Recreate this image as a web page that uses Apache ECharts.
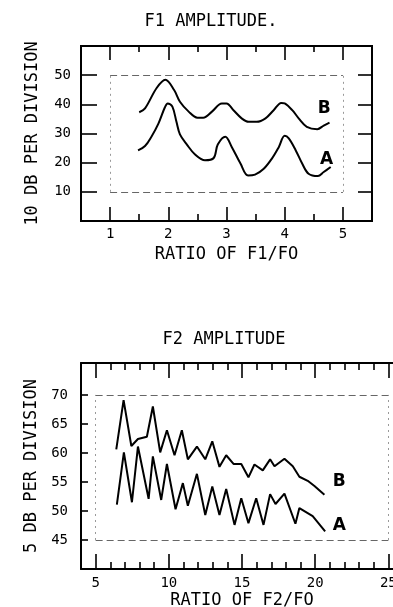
<!DOCTYPE html>
<html>
<head>
<meta charset="utf-8">
<script src="https://cdn.jsdelivr.net/npm/echarts@6/dist/echarts.min.js"></script>
<style>
html,body{margin:0;padding:0;background:#fff;}
#chart{width:393px;height:607px;}
</style>
</head>
<body>
<div id="chart"></div>
<script>
// ---------- DATA ----------
// Top panel: F1 amplitude vs ratio F1/F0  ([ratio, dB])
const f1CurveB = [[1.5,37.3],[1.6,38.6],[1.8,45.6],[1.95,48.4],[2.1,44.9],[2.2,40.9],[2.35,37.5],[2.5,35.4],[2.6,35.4],[2.75,37.5],[2.92,40.3],[3.0,40.3],[3.12,38.0],[3.26,35.2],[3.38,34.0],[3.52,34.0],[3.67,35.2],[3.81,38.0],[3.94,40.5],[4.0,40.3],[4.13,38.0],[4.24,35.2],[4.38,32.3],[4.56,31.5],[4.67,32.7],[4.77,33.7]];
const f1CurveA = [[1.48,24.2],[1.6,25.7],[1.71,28.9],[1.83,33.4],[1.94,38.9],[1.99,40.3],[2.07,39.2],[2.14,34.0],[2.2,29.7],[2.32,26.2],[2.46,22.8],[2.63,20.8],[2.78,21.6],[2.85,26.2],[2.98,28.9],[3.09,25.4],[3.24,19.7],[3.37,15.6],[3.49,15.9],[3.64,17.9],[3.78,21.4],[3.9,25.4],[4.0,29.2],[4.07,28.3],[4.19,24.2],[4.3,19.7],[4.41,16.2],[4.57,15.4],[4.67,16.8],[4.79,18.5]];
// Bottom panel: F2 amplitude vs ratio F2/F0
const f2CurveB = [[6.41,60.6],[6.91,69.1],[7.44,61.2],[7.89,62.4],[8.5,62.8],[8.91,68.0],[9.41,60.1],[9.87,63.9],[10.39,59.6],[10.89,63.9],[11.3,58.9],[11.92,61.1],[12.49,58.9],[12.97,62.0],[13.46,57.6],[13.92,59.6],[14.42,58.1],[14.95,58.1],[15.44,55.8],[15.85,58.0],[16.42,57.0],[16.92,58.9],[17.22,57.7],[17.9,59.0],[18.47,57.7],[18.92,55.9],[19.49,55.2],[19.95,54.3],[20.63,52.8]];
const f2CurveA = [[6.45,51.1],[6.93,60.1],[7.48,51.5],[7.89,61.1],[8.62,52.1],[8.91,59.4],[9.48,51.9],[9.87,58.1],[10.46,50.3],[10.96,54.8],[11.3,50.9],[11.92,56.4],[12.49,49.3],[12.97,54.2],[13.46,49.3],[13.92,53.8],[14.49,47.6],[14.95,52.2],[15.44,47.9],[15.97,52.2],[16.47,47.6],[16.92,52.9],[17.29,51.2],[17.9,53.0],[18.65,47.8],[18.92,50.5],[19.83,49.1],[20.68,46.5]];
// Curve labels
const f1Labels = [{name:'B', value:[4.68,38.4]},{name:'A', value:[4.72,20.9]}];
const f2Labels = [{name:'B', value:[21.65,55.1]},{name:'A', value:[21.65,47.4]}];
// Reference boxes [x0,y0,x1,y1]
const f1Box = [1,10,5,50];
const f2Box = [5,45,25,70];
// Tick values
const f1XMajor = [1,2,3,4,5];
const f1XMinor = [1.5,2.5,3.5,4.5];
const f1YTicks = [10,20,30,40,50];
const f2XMajor = [5,10,15,20,25];
const f2XMinor = [6,7,8,9,11,12,13,14,16,17,18,19,21,22,23,24];
const f2YTicks = [45,50,55,60,65,70];
// Texts
const titleTop = 'F1 AMPLITUDE.';
const titleBottom = 'F2 AMPLITUDE';
const xNameTop = 'RATIO OF F1/FO';
const xNameBottom = 'RATIO OF F2/FO';
const yNameTop = '10 DB PER DIVISION';
const yNameBottom = '5 DB PER DIVISION';

// ---------- STYLE ----------
const FONT = 'DejaVu Sans Mono';
const INK = '#000';

function xAxisDef(grid, pos, min, max, ticks, len, opts) {
  return Object.assign({
    type:'value', gridIndex:grid, position:pos, min:min, max:max,
    axisLine:{show:false, onZero:false, lineStyle:{color:INK, width:2}},
    axisTick:{show:true, inside:true, length:len, customValues:ticks, lineStyle:{color:INK, width:1.6}},
    axisLabel:{show:false},
    splitLine:{show:false}
  }, opts || {});
}
function yAxisDef(grid, pos, min, max, ticks, len, opts) {
  return Object.assign({
    type:'value', gridIndex:grid, position:pos, min:min, max:max,
    axisLine:{show:false, onZero:false, lineStyle:{color:INK, width:2}},
    axisTick:{show:true, inside:true, length:len, customValues:ticks, lineStyle:{color:INK, width:1.6}},
    axisLabel:{show:false},
    splitLine:{show:false}
  }, opts || {});
}
function boxLines(b) {
  const h = {color:'#666', width:1, type:[7,4]};
  const v = {color:'#999', width:1, type:[2,4]};
  return [
    [{coord:[b[0],b[3]], lineStyle:h},{coord:[b[2],b[3]]}],
    [{coord:[b[0],b[1]], lineStyle:h},{coord:[b[2],b[1]]}],
    [{coord:[b[0],b[1]], lineStyle:v},{coord:[b[0],b[3]]}],
    [{coord:[b[2],b[1]], lineStyle:v},{coord:[b[2],b[3]]}]
  ];
}
const lblStyle = {color:INK, fontFamily:FONT, fontSize:14};
const nameStyle = {color:INK, fontFamily:FONT, fontSize:17};
const curveLabel = {show:true, position:'inside', formatter:'{b}', color:INK, fontFamily:'DejaVu Sans', fontWeight:'bold', fontSize:17, opacity:1};

const chart = echarts.init(document.getElementById('chart'), null, {renderer:'canvas'});
const option = {
  backgroundColor:'#fff',
  animation:false,
  graphic:[
    {type:'text', x:211, y:22, style:{text:titleTop, font:'17px "'+FONT+'"', fill:INK, align:'center', verticalAlign:'middle', textAlign:'center', textVerticalAlign:'middle'}},
    {type:'text', x:224, y:340, style:{text:titleBottom, font:'17px "'+FONT+'"', fill:INK, align:'center', verticalAlign:'middle', textAlign:'center', textVerticalAlign:'middle'}}
  ],
  grid:[
    {left:81, top:46, width:291, height:175, show:true, borderColor:INK, borderWidth:2, backgroundColor:'transparent', outerBoundsMode:'none', containLabel:false},
    {left:81, top:363, width:322, height:206, show:false, outerBoundsMode:'none', containLabel:false}
  ],
  xAxis:[
    xAxisDef(0,'bottom',0.5,5.5,f1XMajor,14,{
      axisLabel:{show:true, customValues:f1XMajor, margin:6, ...lblStyle},
      name:xNameTop, nameLocation:'middle', nameGap:25, nameTextStyle:nameStyle
    }),
    xAxisDef(0,'bottom',0.5,5.5,f1XMinor,7),
    xAxisDef(0,'top',0.5,5.5,f1XMajor,14),
    xAxisDef(0,'top',0.5,5.5,f1XMinor,6),
    xAxisDef(1,'bottom',4,26,f2XMajor,15,{
      axisLine:{show:true, onZero:false, lineStyle:{color:INK, width:2}},
      axisLabel:{show:true, customValues:f2XMajor, margin:7, ...lblStyle},
      name:xNameBottom, nameLocation:'middle', nameGap:23, nameTextStyle:nameStyle
    }),
    xAxisDef(1,'bottom',4,26,f2XMinor,7),
    xAxisDef(1,'top',4,26,f2XMajor,15,{
      axisLine:{show:true, onZero:false, lineStyle:{color:INK, width:2}}
    }),
    xAxisDef(1,'top',4,26,f2XMinor,7)
  ],
  yAxis:[
    yAxisDef(0,'left',0,60,f1YTicks,16,{
      axisLabel:{show:true, customValues:f1YTicks, margin:10, ...lblStyle},
      name:yNameTop, nameLocation:'middle', nameGap:40, nameTextStyle:nameStyle
    }),
    yAxisDef(0,'right',0,60,f1YTicks,14),
    yAxisDef(1,'left',40,75.5,f2YTicks,7,{
      axisLine:{show:true, onZero:false, lineStyle:{color:INK, width:2}},
      axisLabel:{show:true, customValues:f2YTicks, margin:13, ...lblStyle},
      name:yNameBottom, nameLocation:'middle', nameGap:40, nameTextStyle:nameStyle
    })
  ],
  series:[
    {type:'line', name:'F1 B', xAxisIndex:0, yAxisIndex:0, data:f1CurveB, smooth:0.35, showSymbol:false,
      lineStyle:{color:INK, width:2}},
    {type:'line', name:'F1 A', xAxisIndex:0, yAxisIndex:0, data:f1CurveA, smooth:0.35, showSymbol:false,
      lineStyle:{color:INK, width:2},
      markLine:{silent:true, symbol:'none', label:{show:false}, data:boxLines(f1Box)}},
    {type:'scatter', xAxisIndex:0, yAxisIndex:0, data:f1Labels, symbolSize:0, itemStyle:{opacity:1, color:INK},
      label:curveLabel},
    {type:'line', name:'F2 B', xAxisIndex:4, yAxisIndex:2, data:f2CurveB, showSymbol:false,
      lineStyle:{color:INK, width:2}},
    {type:'line', name:'F2 A', xAxisIndex:4, yAxisIndex:2, data:f2CurveA, showSymbol:false,
      lineStyle:{color:INK, width:2},
      markLine:{silent:true, symbol:'none', label:{show:false}, data:boxLines(f2Box)}},
    {type:'scatter', xAxisIndex:4, yAxisIndex:2, data:f2Labels, symbolSize:0, itemStyle:{opacity:1, color:INK},
      label:curveLabel}
  ]
};
chart.setOption(option);
</script>
</body>
</html>
